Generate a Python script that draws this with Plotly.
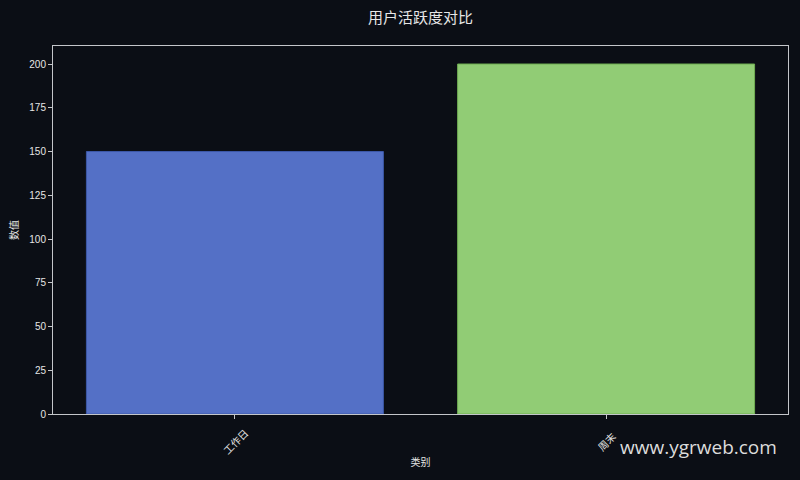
import plotly.graph_objects as go

categories = ["工作日", "周末"]
values = [150, 200]
bar_colors = ["#5470c6", "#91cc75"]
edge_colors = ["#3d58a8", "#6fae52"]

bg = "#0b0e15"
fg = "#e6e6e6"
spine = "#c4c6ca"
font_family = "Liberation Sans, Noto Sans CJK SC, sans-serif"

fig = go.Figure()
fig.add_trace(go.Bar(
    x=categories,
    y=values,
    width=0.8,
    marker=dict(color=bar_colors, line=dict(color=edge_colors, width=1)),
    hoverinfo="x+y",
))

# rotated category labels centred under their ticks (matplotlib style)
tick_notes = [
    dict(
        text=c, xref="x", yref="paper", x=c, y=0, yshift=-27,
        xanchor="center", yanchor="middle", textangle=-45, showarrow=False,
        font=dict(size=10, color=fg, family="Noto Sans CJK SC"),
    )
    for c in categories
]

fig.update_layout(
    width=800,
    height=480,
    paper_bgcolor=bg,
    plot_bgcolor=bg,
    margin=dict(l=53, r=12, t=46, b=66),
    font=dict(family=font_family, color=fg, size=10),
    showlegend=False,
    title=dict(
        text="用户活跃度对比",
        x=(53 + 788) / 2 / 800,
        xanchor="center",
        y=0.962,
        yanchor="middle",
        font=dict(size=15, color=fg, family="Noto Sans CJK SC"),
    ),
    annotations=tick_notes + [
        dict(
            text="www.ygrweb.com",
            xref="paper", yref="paper",
            x=0.988, y=-0.091,
            xanchor="right", yanchor="middle",
            showarrow=False,
            font=dict(size=19, color="#dcdcdc", family="Open Sans"),
        )
    ],
)

fig.update_xaxes(
    range=[-0.49, 1.49],
    showline=True, mirror=True, linecolor=spine, linewidth=1,
    ticks="outside", ticklen=4, tickcolor=spine,
    showticklabels=False,
    showgrid=False, zeroline=False,
    title=dict(text="类别", font=dict(size=10, color=fg, family="Noto Sans CJK SC"), standoff=40),
)
fig.update_yaxes(
    range=[0, 210.3],
    dtick=25,
    showline=True, mirror=True, linecolor=spine, linewidth=1,
    ticks="outside", ticklen=4, tickcolor=spine,
    showgrid=False, zeroline=False,
    tickfont=dict(size=10, color=fg),
    title=dict(text="数值", font=dict(size=10, color=fg, family="Noto Sans CJK SC"), standoff=8),
)

# drop the page margin so the figure sits at the window corner
fig.write_html(
    "out.html",
    config={"displayModeBar": False},
    post_script="document.body.style.margin='0';document.body.style.background='#0b0e15';",
)
